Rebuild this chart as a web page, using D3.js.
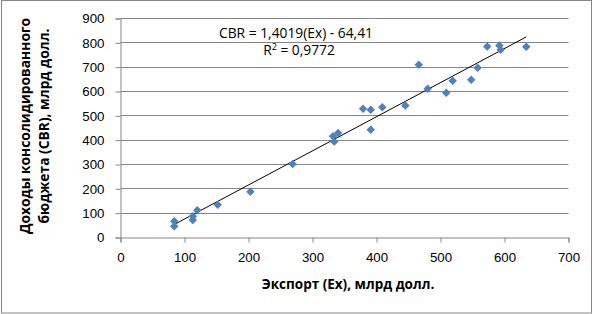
<!DOCTYPE html>
<html>
<head>
<meta charset="utf-8">
<script src="https://cdn.jsdelivr.net/npm/d3@7"></script>
<style>
  body { margin: 0; background: #fff; }
  svg { display: block; font-family: 'Open Sans', sans-serif; }
  .tick text { font-size: 13.3px; fill: #000; }
</style>
</head>
<body>
<svg width="597" height="314"></svg>
<script>
  // Экспорт (Ex), млрд долл.
  const exportValues = [84, 84, 113, 113, 120, 152, 203, 269, 332, 334, 340,
    379, 391, 391, 409, 445, 466, 480, 509, 519, 548, 558, 573, 592, 594, 634];
  // Доходы консолидированного бюджета (CBR), млрд долл.
  const revenueValues = [67, 46, 87, 72, 112, 135, 188, 302, 416, 394, 429,
    529, 525, 443, 535, 542, 710, 611, 595, 644, 648, 698, 785, 789, 772, 784];
  const xTicks = [0, 100, 200, 300, 400, 500, 600, 700];
  const yTicks = [0, 100, 200, 300, 400, 500, 600, 700, 800, 900];
  const slope = 1.4019, intercept = -64.41;

  const data = exportValues.map((x, i) => ({ x, y: revenueValues[i] }));

  const svg = d3.select('svg');
  const margin = { top: 18, left: 120, right: 29, bottom: 77 };
  const width = 597, height = 314;
  const innerWidth = width - margin.left - margin.right;
  const innerHeight = height - margin.top - margin.bottom;

  // chart border
  svg.append('rect')
    .attr('x', 1.5).attr('y', 0.5)
    .attr('width', 590).attr('height', 312.5)
    .attr('fill', '#fff')
    .attr('stroke', '#868686');

  const xScale = d3.scaleLinear().domain([0, 700]).range([0, innerWidth]);
  const yScale = d3.scaleLinear().domain([0, 900]).range([innerHeight, 0]);

  const g = svg.append('g')
    .attr('transform', `translate(${margin.left + 0.5}, ${margin.top + 0.5})`);

  // gridlines
  g.append('g')
    .selectAll('line').data(yTicks.slice(1)).enter().append('line')
    .attr('x1', 0).attr('x2', innerWidth)
    .attr('y1', d => Math.round(yScale(d))).attr('y2', d => Math.round(yScale(d)))
    .attr('stroke', '#868686');

  const yAxis = d3.axisLeft(yScale).tickValues(yTicks).tickSize(5).tickPadding(11);
  const yAxisG = g.append('g').call(yAxis);
  yAxisG.select('.domain').attr('stroke', '#868686');
  yAxisG.selectAll('.tick line').attr('stroke', '#868686');

  const xAxis = d3.axisBottom(xScale).tickValues(xTicks).tickSize(5).tickPadding(10);
  const xAxisG = g.append('g')
    .attr('transform', `translate(0, ${innerHeight})`)
    .call(xAxis);
  xAxisG.select('.domain').attr('stroke', '#868686');
  xAxisG.selectAll('.tick line').attr('stroke', '#868686');

  // trendline
  const xExt = d3.extent(exportValues);
  g.append('line')
    .attr('x1', xScale(xExt[0])).attr('y1', yScale(slope * xExt[0] + intercept))
    .attr('x2', xScale(xExt[1])).attr('y2', yScale(slope * xExt[1] + intercept))
    .attr('stroke', '#000').attr('stroke-width', 1);

  // points
  const diamond = d3.symbol().type(d3.symbolDiamond2).size(46);
  g.selectAll('.pt').data(data).enter().append('path')
    .attr('class', 'pt')
    .attr('d', diamond)
    .attr('transform', d => `translate(${xScale(d.x)}, ${yScale(d.y)})`)
    .attr('fill', '#4F81BD');

  // equation
  const eq = svg.append('text')
    .attr('text-anchor', 'middle')
    .attr('font-size', 13.8);
  eq.append('tspan').attr('x', 296).attr('y', 38).text('CBR = 1,4019(Ex) - 64,41');
  const l2 = eq.append('tspan').attr('x', 299).attr('y', 55);
  l2.append('tspan').text('R');
  l2.append('tspan').attr('font-size', 9).attr('dy', -5).text('2');
  l2.append('tspan').attr('dy', 5).text(' = 0,9772');

  // axis titles
  svg.append('text')
    .attr('x', 348).attr('y', 289)
    .attr('text-anchor', 'middle')
    .attr('font-size', 13.5).attr('font-weight', 'bold')
    .text('Экспорт (Ex), млрд долл.');

  const yTitle = svg.append('text')
    .attr('transform', 'translate(0, 126) rotate(-90)')
    .attr('text-anchor', 'middle')
    .attr('font-size', 13.8).attr('font-weight', 'bold');
  yTitle.append('tspan').attr('x', 0).attr('y', 30).text('Доходы консолидированного');
  yTitle.append('tspan').attr('x', 0).attr('y', 49).text('бюджета (CBR), млрд долл.');
</script>
</body>
</html>
